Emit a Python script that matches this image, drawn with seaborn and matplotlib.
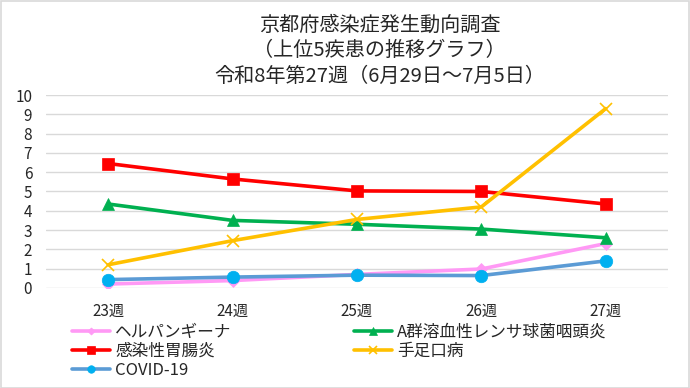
import matplotlib
matplotlib.use('Agg')
import matplotlib.pyplot as plt
from matplotlib.patches import Rectangle
import pandas as pd
import seaborn as sns

# ========== DATA ==========
WEEKS = ['23週', '24週', '25週', '26週', '27週']
HERPANGINA = [0.2, 0.38, 0.7, 0.98, 2.3]
STREP_A = [4.35, 3.5, 3.3, 3.05, 2.6]
GASTRO = [6.45, 5.65, 5.03, 5.0, 4.35]
HFMD = [1.2, 2.45, 3.55, 4.2, 9.3]
COVID = [0.43, 0.56, 0.66, 0.64, 1.4]

NAMES = ['ヘルパンギーナ', 'A群溶血性レンサ球菌咽頭炎', '感染性胃腸炎', '手足口病', 'COVID-19']
TITLE_LINES = ['京都府感染症発生動向調査', '（上位5疾患の推移グラフ）', '令和8年第27週（6月29日～7月5日）']

# line colour, marker, marker colour, marker size
STYLES = {
    'ヘルパンギーナ': ('#FF99F5', 'D', '#FF99F5', 6),
    'A群溶血性レンサ球菌咽頭炎': ('#00B050', '^', '#00B050', 9),
    '感染性胃腸炎': ('#FF0000', 's', '#FF0000', 9),
    '手足口病': ('#FFC000', 'x', '#FFC000', 9),
    'COVID-19': ('#5B9BD5', 'o', '#00B0F0', 9),
}

# ========== PLOT ==========
sns.set_style('white')
plt.rcParams['font.family'] = ['Noto Sans CJK JP', 'DejaVu Sans']

df = pd.DataFrame({'week': list(range(len(WEEKS))) * 5,
                   'value': HERPANGINA + STREP_A + GASTRO + HFMD + COVID,
                   'disease': [n for n in NAMES for _ in WEEKS]})

fig = plt.figure(figsize=(6.9, 3.88), dpi=100)
ax = fig.add_axes([0.0667, 0.258, 0.9013, 0.497])

handles = {}
draw_order = ['ヘルパンギーナ', 'COVID-19', 'A群溶血性レンサ球菌咽頭炎', '感染性胃腸炎', '手足口病']
for name in draw_order:
    color, marker, mcolor, ms = STYLES[name]
    sub = df[df['disease'] == name]
    sns.lineplot(data=sub, x='week', y='value', ax=ax, color=color, linewidth=2.6,
                 marker=marker, markersize=ms, markerfacecolor=mcolor,
                 markeredgecolor=mcolor, markeredgewidth=1.2 if marker == 'x' else 0.5,
                 label=name, legend=False)
    handles[name] = ax.lines[-1]

ax.set_xlim(-0.5, 4.5)
ax.set_ylim(0, 10)
ax.set_yticks(range(0, 11))
ax.set_xticks(range(len(WEEKS)))
ax.set_xticklabels(WEEKS)
ax.tick_params(axis='x', length=0, pad=11, labelsize=11)
ax.tick_params(axis='y', length=0, pad=10, labelsize=11)
ax.set_xlabel('')
ax.set_ylabel('')
ax.grid(axis='y', color='#D9D9D9', linewidth=1)
ax.set_axisbelow(True)
for s in ax.spines.values():
    s.set_visible(False)

for i, line in enumerate(TITLE_LINES):
    fig.text(0.55, 1 - (25 + i * 25.5) / 388, line, ha='center', va='center', fontsize=14.5)

col1 = ['ヘルパンギーナ', '感染性胃腸炎', 'COVID-19']
col2 = ['A群溶血性レンサ球菌咽頭炎', '手足口病']
leg_kw = dict(loc='upper left', frameon=False, fontsize=12, handlelength=2.3,
              handletextpad=0.3, labelspacing=0.12, borderpad=0, borderaxespad=0,
              markerscale=0.6)
fig.legend([handles[n] for n in col1], col1, bbox_to_anchor=(72 / 690, 1 - 324 / 388), **leg_kw)
fig.legend([handles[n] for n in col2], col2, bbox_to_anchor=(354 / 690, 1 - 324 / 388), **leg_kw)

fig.patches.append(Rectangle((0.001, 0.001), 0.998, 0.997, transform=fig.transFigure,
                             fill=False, edgecolor='#D9D9D9', linewidth=1.2))

fig.savefig('out.png', dpi=100)
